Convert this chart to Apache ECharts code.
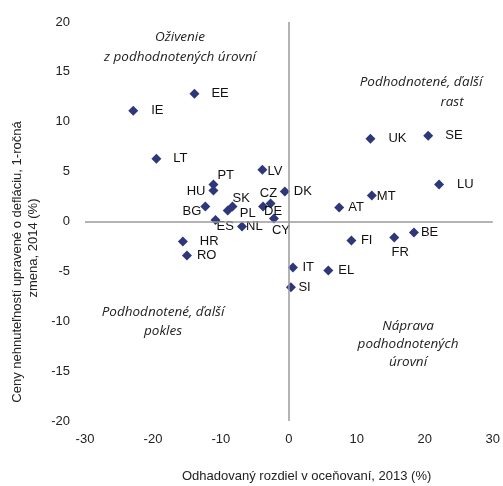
<!DOCTYPE html>
<html>
<head>
<meta charset="utf-8">
<script src="https://cdn.jsdelivr.net/npm/echarts@6/dist/echarts.min.js"></script>
<style>
  html, body { margin: 0; padding: 0; background: #fff; }
  #chart { width: 503px; height: 486px; }
</style>
</head>
<body>
<div id="chart"></div>
<script>
// Country codes
const countries = ['EE','IE','LT','LV','PT','HU','DK','CZ','DE','SK','PL','BG','ES','NL','CY','HR','RO',
                   'UK','SE','LU','MT','AT','BE','FR','FI','IT','EL','SI'];
// Estimated valuation gap, 2013 (%)
const valuationGap = [-13.9,-22.9,-19.5,-3.9,-11.1,-11.1,-0.6,-2.7,-3.8,-8.3,-9.0,-12.3,-10.8,-6.9,-2.2,-15.6,-15.0,
                      12.0,20.5,22.1,12.2,7.4,18.4,15.5,9.2,0.6,5.8,0.3];
// Deflated house prices, y-o-y change, 2014 (%)
const priceChange = [12.8,11.1,6.3,5.2,3.7,3.1,3.0,1.8,1.5,1.5,1.1,1.5,0.15,-0.5,0.3,-2.0,-3.4,
                     8.3,8.6,3.7,2.6,1.4,-1.1,-1.6,-1.9,-4.6,-4.9,-6.6];
// Label placement: [align, dx, dy] relative to the marker centre
const labelPlace = {
  EE:['left',17,0], IE:['left',18,0], LT:['left',17,0], LV:['left',5,1.5], PT:['left',4,-9.5],
  HU:['right',-8,1], DK:['left',9,0], CZ:['center',-2,-10.5], DE:['left',1,5], SK:['left',0,-8.5],
  PL:['left',12,2.5], BG:['right',-4,5], ES:['left',1,6.5], NL:['left',4,0], CY:['center',7,11.5],
  HR:['left',17,0], RO:['left',10,0], UK:['left',18,0], SE:['left',17,0], LU:['left',18,0],
  MT:['left',5,1], AT:['left',9,0], BE:['left',7,0], FR:['center',6,14.5], FI:['left',9.5,0],
  IT:['left',9.5,0], EL:['left',10,0], SI:['left',7.5,0]
};
const xTicks = { min: -30, max: 30, step: 10 };
const yTicks = { min: -20, max: 20, step: 5 };

const points = countries.map((c, i) => {
  const p = labelPlace[c];
  return {
    name: c,
    value: [valuationGap[i], priceChange[i]],
    label: { position: 'inside', align: p[0], verticalAlign: 'middle', offset: [p[1], p[2]] }
  };
});

const chart = echarts.init(document.getElementById('chart'), null, { renderer: 'canvas' });
const font = 'Liberation Sans, Arial, sans-serif';
const noteStyle = { fontFamily: 'Open Sans, sans-serif', fontStyle: 'italic', fontSize: 13.5, fill: '#222', align: 'center', lineHeight: 20 };

chart.setOption({
  animation: false,
  backgroundColor: '#fff',
  grid: { left: 85, right: 8, top: 22, bottom: 65 },
  xAxis: {
    type: 'value', min: xTicks.min, max: xTicks.max, interval: xTicks.step,
    axisLine: { show: false }, axisTick: { show: false }, splitLine: { show: false },
    axisLabel: { fontFamily: font, fontSize: 13, color: '#222', margin: 12 }
  },
  yAxis: {
    type: 'value', min: yTicks.min, max: yTicks.max, interval: yTicks.step,
    axisLine: { show: false }, axisTick: { show: false }, splitLine: { show: false },
    axisLabel: { fontFamily: font, fontSize: 13, color: '#222', margin: 15 }
  },
  series: [{
    type: 'scatter',
    symbol: 'diamond',
    symbolSize: 10,
    itemStyle: { color: '#2E3779', opacity: 1 },
    data: points,
    label: {
      show: true,
      formatter: '{b}',
      fontFamily: font, fontSize: 13, color: '#111'
    },
    markLine: {
      silent: true,
      symbol: 'none',
      label: { show: false },
      lineStyle: { color: '#9a9a9a', width: 1.5, type: 'solid' },
      data: [{ xAxis: 0 }, { yAxis: 0 }]
    },
    z: 3
  }],
  graphic: [
    { type: 'text', left: 182, top: 470,
      style: { text: 'Odhadovaný rozdiel v oceňovaní, 2013 (%)', fontFamily: font, fontSize: 13, fill: '#222' } },
    { type: 'text', x: 17, y: 262, rotation: Math.PI / 2,
      style: { text: 'Ceny nehnuteľností upravené o defláciu, 1-ročná', fontFamily: font, fontSize: 13, fill: '#222', align: 'center', verticalAlign: 'middle' } },
    { type: 'text', x: 33, y: 248, rotation: Math.PI / 2,
      style: { text: 'zmena, 2014 (%)', fontFamily: font, fontSize: 13, fill: '#222', align: 'center', verticalAlign: 'middle' } },
    { type: 'text', x: 180, y: 27,
      style: Object.assign({ text: 'Oživenie\nz podhodnotených úrovní' }, noteStyle) },
    { type: 'text', x: 421, y: 72,
      style: Object.assign({ text: 'Podhodnotené, ďalší' }, noteStyle) },
    { type: 'text', x: 452, y: 92,
      style: Object.assign({ text: 'rast' }, noteStyle) },
    { type: 'text', x: 163, y: 303,
      style: Object.assign({ text: 'Podhodnotené, ďalší\npokles' }, noteStyle, { lineHeight: 19 }) },
    { type: 'text', x: 408, y: 317,
      style: Object.assign({ text: 'Náprava\npodhodnotených\núrovní' }, noteStyle, { lineHeight: 18 }) }
  ]
});
</script>
</body>
</html>
